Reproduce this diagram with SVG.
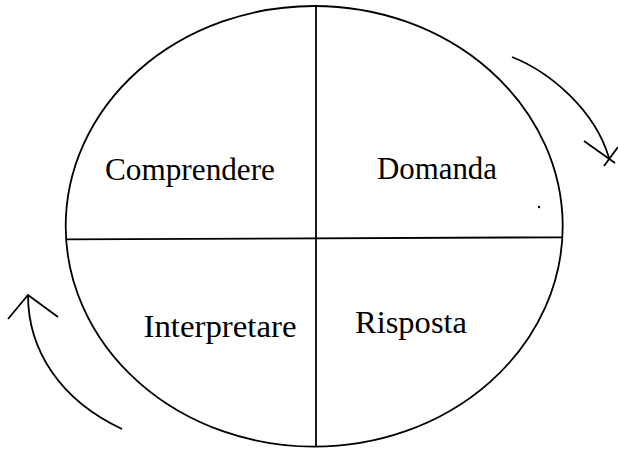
<svg xmlns="http://www.w3.org/2000/svg" width="618" height="450" viewBox="0 0 618 450">
<style>
.ln{fill:none;stroke:#000;stroke-width:1.8;stroke-linecap:butt}
.t{font-family:"Liberation Serif","Times New Roman",serif;font-size:32.5px;fill:#000}
</style>
<rect width="618" height="450" fill="#fff"/>
<g id="circle">
<ellipse class="ln" cx="314.2" cy="226.3" rx="248.5" ry="220.3"/>
<line class="ln" x1="316" y1="6" x2="316" y2="446.5"/>
<line class="ln" x1="66" y1="239.3" x2="562.7" y2="237.3"/>
<circle cx="539" cy="207" r="1.2" fill="#000"/>
</g>
<g id="comprendere"><text class="t" x="105" y="180" textLength="170" lengthAdjust="spacingAndGlyphs">Comprendere</text></g>
<g id="domanda"><text class="t" x="377" y="179.3" textLength="120" lengthAdjust="spacingAndGlyphs">Domanda</text></g>
<g id="interpretare"><text class="t" x="143.5" y="336.7" textLength="153" lengthAdjust="spacingAndGlyphs">Interpretare</text></g>
<g id="risposta"><text class="t" x="355" y="333.3" textLength="112" lengthAdjust="spacingAndGlyphs">Risposta</text></g>
<g id="connectors">
<path class="ln" d="M512,57 C550,72 595,110 609,158"/>
<path class="ln" d="M584,141 L615,163 M604,166 L618,147"/>
<path class="ln" d="M122,429 C60,400 28,350 28,295"/>
<path class="ln" d="M8,319 L28,295 L58,317"/>
</g>
</svg>
